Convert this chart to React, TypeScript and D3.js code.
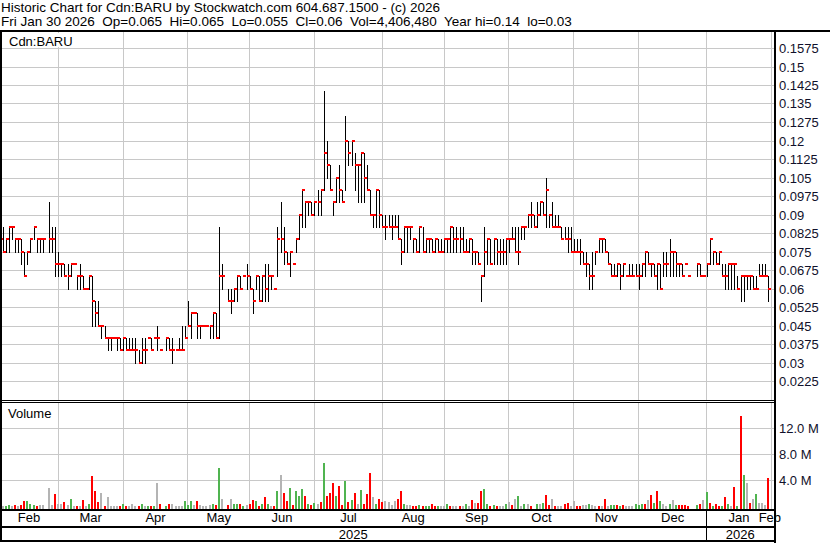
import React from "react";
import * as d3 from "d3";

const headerLine1 = "Historic Chart for Cdn:BARU by Stockwatch.com 604.687.1500 - (c) 2026";
const headerLine2 = "Fri Jan 30 2026  Op=0.065  Hi=0.065  Lo=0.055  Cl=0.06  Vol=4,406,480  Year hi=0.14  lo=0.03";
const symbolLabel = "Cdn:BARU";

const monthLabels = ["Feb", "Mar", "Apr", "May", "Jun", "Jul", "Aug", "Sep", "Oct", "Nov", "Dec", "Jan", "Feb"];
const monthDays = [19, 21, 21, 20, 21, 22, 20, 21, 21, 21, 22, 21];
const yearLabels = ["2025", "2026"];

const priceTicks = [0.0225, 0.03, 0.0375, 0.045, 0.0525, 0.06, 0.0675, 0.075, 0.0825, 0.09, 0.0975, 0.105, 0.1125, 0.12, 0.1275, 0.135, 0.1425, 0.15, 0.1575];
const volTicks = [4, 8, 12];
const volTickLabels = ["4.0 M", "8.0 M", "12.0 M"];

const highs = [
  0.085, 0.085, 0.08, 0.085, 0.085, 0.08, 0.08, 0.08, 0.075, 0.075,
  0.08, 0.085, 0.08, 0.08, 0.08, null, 0.095, 0.085, 0.085, 0.075,
  0.07, 0.07, 0.07, 0.07, 0.07, 0.065, 0.07, 0.065, 0.06, 0.065,
  0.065, 0.055, 0.055, 0.045, 0.045, 0.04, 0.04, 0.04, 0.04, 0.04,
  0.04, 0.04, 0.04, 0.04, 0.04, 0.035, 0.04, 0.04, 0.04, 0.04,
  0.04, 0.045, 0.035, null, 0.04, 0.04, 0.04, 0.035, 0.04, 0.045,
  0.045, 0.055, 0.05, 0.05, 0.05, 0.045, 0.045, 0.045, 0.045, 0.05,
  0.05, 0.085, 0.07, null, 0.06, 0.06, 0.06, 0.065, 0.065, 0.065,
  0.07, 0.065, 0.06, 0.065, 0.065, 0.065, 0.07, 0.07, 0.065, 0.06,
  0.085, 0.095, 0.085, 0.075, 0.075, 0.07, 0.08, 0.09, 0.1, 0.095,
  0.095, 0.095, 0.095, 0.1, 0.1, 0.14, 0.12, 0.11, 0.095, 0.105,
  0.11, 0.1, 0.13, 0.12, 0.12, 0.115, 0.11, 0.115, 0.115, 0.11,
  0.1, 0.09, 0.1, 0.1, 0.09, 0.09, 0.09, 0.09, 0.09, 0.09,
  0.08, 0.085, 0.085, 0.085, 0.08, 0.08, 0.085, 0.085, 0.08, 0.08,
  0.08, 0.08, 0.08, 0.08, 0.08, 0.08, 0.085, 0.085, 0.085, 0.085,
  0.085, 0.08, 0.08, 0.08, 0.075, 0.075, 0.065, 0.085, 0.08, 0.08,
  0.08, 0.08, 0.08, 0.08, 0.08, 0.08, 0.085, 0.085, 0.085, 0.085,
  0.085, 0.09, 0.095, 0.09, 0.095, 0.095, 0.095, 0.105, 0.09, 0.095,
  0.09, 0.09, 0.085, 0.085, 0.085, 0.085, 0.08, 0.08, 0.08, 0.075,
  0.075, 0.07, 0.075, 0.075, 0.08, 0.08, 0.08, 0.075, 0.07, 0.07,
  0.07, 0.07, 0.07, 0.065, 0.07, 0.07, 0.07, 0.07, 0.07, 0.075,
  0.075, 0.07, 0.07, 0.07, 0.07, 0.075, 0.075, 0.08, 0.075, 0.075,
  0.07, 0.07, 0.07, 0.065, null, null, 0.07, 0.07, 0.065, 0.07,
  0.08, 0.075, 0.075, 0.075, 0.07, 0.07, 0.07, 0.07, 0.07, 0.065,
  0.065, 0.065, 0.065, 0.065, 0.065, 0.065, 0.07, 0.07, 0.07, 0.065,
];

const lows = [
  0.075, 0.075, 0.075, 0.075, 0.08, 0.075, 0.075, 0.07, 0.065, 0.07,
  0.075, 0.08, 0.075, 0.075, 0.075, null, 0.075, 0.075, 0.065, 0.065,
  0.065, 0.065, 0.06, 0.065, 0.07, 0.06, 0.06, 0.06, 0.06, 0.06,
  0.045, 0.045, 0.045, 0.04, 0.04, 0.035, 0.035, 0.04, 0.035, 0.035,
  0.035, 0.035, 0.035, 0.035, 0.03, 0.03, 0.03, 0.03, 0.04, 0.035,
  0.04, 0.035, 0.035, null, 0.035, 0.035, 0.03, 0.035, 0.035, 0.035,
  0.04, 0.045, 0.04, 0.05, 0.04, 0.04, 0.045, 0.045, 0.04, 0.04,
  0.04, 0.04, 0.06, null, 0.055, 0.05, 0.055, 0.055, 0.06, 0.065,
  0.06, 0.06, 0.05, 0.06, 0.055, 0.055, 0.055, 0.055, 0.06, 0.06,
  0.065, 0.075, 0.07, 0.07, 0.065, 0.07, 0.075, 0.08, 0.085, 0.085,
  0.09, 0.09, 0.09, 0.09, 0.09, 0.1, 0.105, 0.1, 0.09, 0.095,
  0.095, 0.095, 0.1, 0.11, 0.11, 0.1, 0.095, 0.095, 0.095, 0.1,
  0.09, 0.085, 0.085, 0.085, 0.085, 0.08, 0.085, 0.08, 0.085, 0.08,
  0.07, 0.075, 0.075, 0.08, 0.075, 0.075, 0.075, 0.075, 0.075, 0.075,
  0.075, 0.075, 0.075, 0.075, 0.075, 0.075, 0.075, 0.075, 0.075, 0.075,
  0.075, 0.075, 0.075, 0.07, 0.07, 0.07, 0.055, 0.065, 0.07, 0.07,
  0.07, 0.07, 0.07, 0.07, 0.07, 0.075, 0.08, 0.075, 0.07, 0.08,
  0.08, 0.085, 0.085, 0.085, 0.085, 0.09, 0.09, 0.085, 0.085, 0.085,
  0.085, 0.085, 0.08, 0.08, 0.075, 0.075, 0.075, 0.075, 0.07, 0.07,
  0.065, 0.06, 0.06, 0.07, 0.075, 0.075, 0.075, 0.07, 0.065, 0.065,
  0.065, 0.06, 0.065, 0.065, 0.065, 0.065, 0.065, 0.06, 0.065, 0.065,
  0.07, 0.065, 0.065, 0.06, 0.06, 0.065, 0.065, 0.065, 0.065, 0.065,
  0.065, 0.065, 0.07, 0.065, null, null, 0.065, 0.065, 0.065, 0.065,
  0.07, 0.07, 0.07, 0.07, 0.065, 0.06, 0.06, 0.06, 0.06, 0.06,
  0.055, 0.055, 0.06, 0.06, 0.06, 0.06, 0.065, 0.065, 0.065, 0.055,
];

const closes = [
  0.08, 0.075, 0.08, 0.085, 0.085, 0.08, 0.08, 0.075, 0.065, 0.075,
  0.08, 0.085, 0.08, 0.08, 0.08, null, 0.08, 0.08, 0.07, 0.07,
  0.07, 0.065, 0.065, 0.07, 0.07, 0.065, 0.065, 0.06, 0.06, 0.065,
  0.055, 0.05, 0.045, 0.045, 0.04, 0.04, 0.04, 0.04, 0.04, 0.035,
  0.04, 0.035, 0.035, 0.035, 0.035, 0.03, 0.035, 0.035, 0.04, 0.035,
  0.04, 0.04, 0.035, null, 0.04, 0.035, 0.035, 0.035, 0.035, 0.035,
  0.04, 0.045, 0.05, 0.05, 0.045, 0.045, 0.045, 0.045, 0.045, 0.05,
  0.04, 0.065, 0.065, null, 0.055, 0.055, 0.06, 0.065, 0.06, 0.065,
  0.065, 0.06, 0.055, 0.065, 0.055, 0.065, 0.06, 0.065, 0.065, 0.06,
  0.08, 0.08, 0.075, 0.07, 0.075, 0.07, 0.08, 0.09, 0.1, 0.095,
  0.095, 0.09, 0.095, 0.095, 0.1, 0.115, 0.11, 0.1, 0.095, 0.105,
  0.1, 0.095, 0.12, 0.115, 0.12, 0.11, 0.11, 0.115, 0.105, 0.1,
  0.09, 0.09, 0.1, 0.09, 0.085, 0.085, 0.085, 0.085, 0.085, 0.08,
  0.075, 0.085, 0.085, 0.085, 0.08, 0.075, 0.085, 0.075, 0.08, 0.08,
  0.075, 0.08, 0.075, 0.075, 0.08, 0.08, 0.085, 0.08, 0.08, 0.08,
  0.075, 0.075, 0.08, 0.075, 0.075, 0.07, 0.065, 0.075, 0.08, 0.07,
  0.08, 0.075, 0.075, 0.075, 0.08, 0.08, 0.08, 0.075, 0.075, 0.085,
  0.085, 0.09, 0.09, 0.085, 0.09, 0.095, 0.09, 0.1, 0.09, 0.085,
  0.085, 0.085, 0.08, 0.08, 0.08, 0.075, 0.075, 0.075, 0.075, 0.07,
  0.07, 0.065, 0.065, 0.075, 0.08, 0.08, 0.075, 0.07, 0.065, 0.065,
  0.07, 0.065, 0.07, 0.065, 0.065, 0.065, 0.065, 0.065, 0.07, 0.075,
  0.07, 0.07, 0.065, 0.07, 0.06, 0.07, 0.07, 0.075, 0.075, 0.07,
  0.07, 0.065, 0.07, 0.065, null, null, 0.07, 0.065, 0.065, 0.07,
  0.08, 0.075, 0.07, 0.075, 0.065, 0.065, 0.07, 0.07, 0.07, 0.06,
  0.065, 0.065, 0.065, 0.065, 0.06, 0.06, 0.065, 0.065, 0.065, 0.06,
];

// volume in millions of shares
const volumes = [
  0.1, 0.1, 0.1, 0.2, 0.05, 0.2, 0.1, 0.2, 0.8, 0.8,
  0.3, 0.2, 0.1, 0.2, 0.2, 0, 2.8, 0.2, 1.9, 0.4,
  0.3, 0.7, 0.2, 1.1, 0.1, 0.1, 0.1, 1.0, 0.05, 0.3,
  4.7, 2.4, 0.6, 2.0, 0.1, 1.4, 0.1, 0.05, 0.1, 0.1,
  0.3, 0.1, 0.05, 0.3, 0.1, 0.1, 0.3, 0.05, 0.05, 0.1,
  0.05, 3.6, 0.3, 0, 0.1, 0.3, 0.4, 0.05, 0.05, 0.1,
  0.8, 0.2, 0.8, 0.2, 0.8, 0.2, 0.1, 0.1, 0.2, 0.3,
  0.2, 5.9, 1.1, 0, 0.2, 1.2, 0.3, 0.4, 0.3, 0.1,
  0.2, 0.3, 1.0, 0.8, 0.1, 0.4, 1.4, 0.3, 0.1, 0.05,
  2.4, 4.8, 2.0, 0.8, 2.8, 0.2, 2.4, 1.6, 2.6, 1.6,
  0.4, 0.2, 0.5, 0.3, 0.6, 6.7, 1.6, 2.0, 3.6, 1.6,
  3.1, 0.2, 3.9, 0.7, 1.0, 2.0, 0.4, 2.5, 0.3, 1.9,
  5.1, 1.4, 0.4, 1.1, 0.6, 0.8, 0.6, 0.2, 0.8, 1.2,
  2.4, 0.4, 0.2, 0.2, 0.1, 0.05, 0.2, 0.05, 0.1, 0.1,
  0.3, 0.05, 0.1, 0.1, 0.1, 0.3, 0.1, 0.05, 0.1, 0.1,
  0.1, 0.4, 0.1, 1.0, 0.5, 0.5, 2.4, 2.7, 0.3, 0.1,
  0.2, 0.1, 0.1, 0.1, 0.3, 0.6, 0.2, 1.1, 1.6, 0.1,
  0.3, 0.3, 0.1, 0, 0.3, 0.3, 0.5, 1.7, 0.2, 1.1,
  0.1, 0.1, 0.1, 0.3, 0.5, 0.1, 0.8, 0.1, 0.1, 0.2,
  0.2, 0.3, 0.2, 0.1, 0.05, 0.1, 1.1, 0.1, 0.2, 0.2,
  0.2, 0.1, 0.2, 0.1, 0.1, 0.1, 0.3, 0.2, 0.4, 0.3,
  1.0, 1.7, 0.5, 2.4, 0.8, 0.3, 0.1, 0.4, 1.0, 0.2,
  0.2, 0.2, 0.2, 0.1, 0, 0, 0.2, 0.3, 1.0, 2.2,
  0.5, 0.1, 0.3, 0.1, 0.05, 1.5, 0.3, 0.05, 3.0, 0.1,
  13.9, 4.8, 3.6, 0.5, 1.1, 1.9, 0.5, 0.5, 0.2, 4.4,
];

// volume bar colour code per day: g = up, r = down, n = unchanged
const volDirection = (
  "nnggnrnrrg" + "ggrnnnnnrn" + "nrngnrnrng" + "rrrnrnnnnr" + "grnnnrgngr" +
  "gnrngrnnnn" + "gggnrnnnng" + "rgnnrnggrg" + "nrrgrgrgnr" + "gnrrgrgggr" +
  "grgnrgrrrg" + "rrgrgrngrr" + "rngrrnnnnr" + "rgnnrrgrgg" + "rrgnngrnnr" +
  "ngnrnrrggr" + "grnngnrngn" + "gnrngngrrn" + "rnnrrnnrrn" + "ngnnrnrngg" +
  "rgrnnngggr" + "nrgrgnngng" + "rrrrnngrng" + "rgrrgrgnrg" + "rgnrngnnnr"
).split("");

const volColor: Record<string, string> = { g: "#50b450", r: "#ff0000", n: "#b4b4b4" };

const FONT = "'Liberation Sans', Arial, Helvetica, sans-serif";

export default function App() {
  const W = 830;
  const H = 543;
  const plotRight = 774;
  const n = closes.length;

  const x = d3.scaleLinear().domain([0, n - 1]).range([-0.4, 768.3]);
  const yP = d3.scaleLinear().domain([0.0225, 0.1575]).range([381, 48]);
  const yV = d3.scaleLinear().domain([0, 12]).range([506.3, 428.3]);

  const starts = Array.from(d3.cumsum([0, ...monthDays]));
  const col = (i: number) => Math.round(x(i));
  const gridX = (i: number) => Math.floor(x(i)) + 0.5;

  const monthCenters = monthLabels.map((_, m) =>
    m < monthDays.length ? (x(starts[m]) + x(starts[m + 1])) / 2 : x(starts[m]) - 1.5
  );
  const yearBoundary = gridX(starts[11]);
  const yearCenters = [yearBoundary / 2, (yearBoundary + plotRight) / 2];

  const vGridStarts = starts.slice(1);

  return (
    <svg
      width={W}
      height={H}
      viewBox={`0 0 ${W} ${H}`}
      style={{ position: "absolute", left: 0, top: 0, display: "block", background: "#fff" }}
      fontFamily={FONT}
    >
      <rect x={0} y={0} width={W} height={H} fill="#fff" />

      {/* header */}
      <text x={1} y={12} fontSize={13.5} fill="#000">{headerLine1}</text>
      <text x={1} y={26} fontSize={13.5} fill="#000" style={{ whiteSpace: "pre" }}>{headerLine2}</text>

      {/* grid */}
      <g stroke="#c8c8c8" strokeWidth={1} shapeRendering="crispEdges">
        {priceTicks.map((t) => (
          <line key={"hp" + t} x1={2} x2={plotRight} y1={Math.round(yP(t)) + 0.5} y2={Math.round(yP(t)) + 0.5} />
        ))}
        {volTicks.map((t) => (
          <line key={"hv" + t} x1={2} x2={plotRight} y1={Math.round(yV(t)) + 0.5} y2={Math.round(yV(t)) + 0.5} />
        ))}
        {vGridStarts.map((s) => (
          <g key={"vg" + s}>
            <line x1={gridX(s)} x2={gridX(s)} y1={32} y2={400} />
            <line x1={gridX(s)} x2={gridX(s)} y1={403} y2={509} />
          </g>
        ))}
      </g>

      {/* panel labels */}
      <rect x={7} y={33} width={68} height={14} fill="#fff" />
      <text x={9} y={46} fontSize={13} fill="#000">{symbolLabel}</text>
      <text x={8} y={418} fontSize={13} fill="#000">Volume</text>

      {/* price bars: high-low line */}
      <g fill="#000" shapeRendering="crispEdges">
        {closes.map((c, i) => {
          const h = highs[i];
          const l = lows[i];
          if (c == null || h == null || l == null) return null;
          const top = Math.round(yP(h));
          const bot = Math.round(yP(l));
          if (bot - top < 1) return null;
          return <rect key={"hl" + i} x={col(i)} y={top} width={1} height={bot - top + 1} />;
        })}
      </g>
      {/* close ticks */}
      <g fill="#ff0000" shapeRendering="crispEdges">
        {closes.map((c, i) => {
          if (c == null) return null;
          return <rect key={"cl" + i} x={col(i)} y={Math.round(yP(c)) - 1} width={3} height={2} />;
        })}
      </g>

      {/* volume bars */}
      <g shapeRendering="crispEdges">
        {volumes.map((v, i) => {
          if (!v) return null;
          const top = Math.round(yV(v));
          return (
            <rect key={"v" + i} x={col(i) - 1} y={top} width={2} height={509 - top} fill={volColor[volDirection[i]]} />
          );
        })}
      </g>

      {/* axis labels */}
      {priceTicks.map((t) => (
        <text key={"pl" + t} x={779} y={Math.round(yP(t)) + 4.5} fontSize={13} fill="#10102a">
          {String(t)}
        </text>
      ))}
      {volTicks.map((t, k) => (
        <text key={"vl" + t} x={779} y={Math.round(yV(t)) + 5} fontSize={13} fill="#10102a">
          {volTickLabels[k]}
        </text>
      ))}

      {monthLabels.map((m, k) => (
        <text key={"m" + k} x={monthCenters[k]} y={522} fontSize={13} textAnchor="middle" fill="#000">
          {m}
        </text>
      ))}
      {yearLabels.map((yl, k) => (
        <text key={"y" + yl} x={yearCenters[k]} y={539} fontSize={13} textAnchor="middle" fill="#000">
          {yl}
        </text>
      ))}

      {/* frame */}
      <g fill="#000" shapeRendering="crispEdges">
        <rect x={0} y={30} width={W} height={2} />
        <rect x={0} y={30} width={2} height={512} />
        <rect x={0} y={400} width={plotRight} height={1} />
        <rect x={0} y={402} width={plotRight} height={1} />
        <rect x={0} y={509} width={plotRight} height={2} />
        <rect x={0} y={526} width={plotRight} height={2} />
        <rect x={0} y={540} width={plotRight} height={2} />
        <rect x={plotRight} y={30} width={2} height={513} />
        <rect x={Math.floor(yearBoundary)} y={509} width={1} height={33} />
      </g>
    </svg>
  );
}
